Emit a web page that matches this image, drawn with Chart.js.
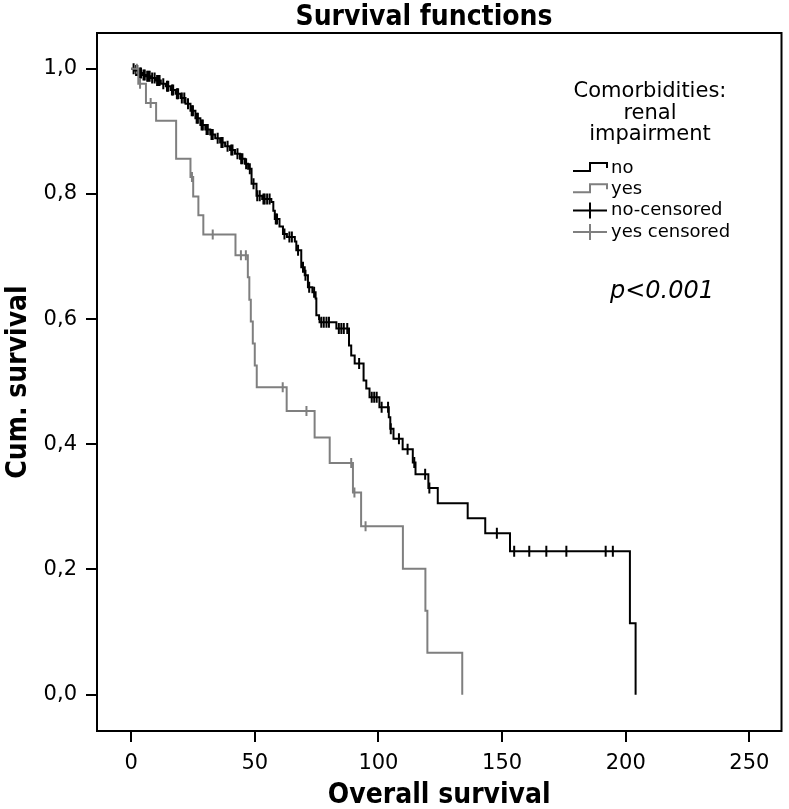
<!DOCTYPE html>
<html>
<head>
<meta charset="utf-8">
<title>Survival functions</title>
<script src="https://cdn.jsdelivr.net/npm/chart.js@4.4.1/dist/chart.umd.min.js"></script>
<style>
    html, body { margin: 0; padding: 0; background: #fff; }
    #wrap { width: 789px; height: 809px; }
</style>
</head>
<body>
<div id="wrap"><canvas id="survivalChart" width="789" height="809"></canvas></div>
<script>
// KAPLAN-MEIER DATA
const noTimes = [0, 1.5, 3, 4.5, 6, 8, 10, 12, 14, 16, 18, 20, 22, 24, 26, 28, 30, 32, 34, 36,
    38, 40, 42, 44, 46, 47.3, 48.7, 50.7, 53, 56.7, 57.5, 58.1, 60, 61.4, 63, 66.2, 66.8, 68.8, 70.2, 71.5,
    73.3, 74.6, 74.9, 76, 76.2, 83, 88.1, 89, 90.4, 94, 95.1, 96.4, 100.4, 104.2, 104.8, 106.1, 109.8, 113.9, 115, 120.2,
    124, 136.1, 143.2, 153.2, 201.7, 204];
const noSurv = [1.0, 0.997, 0.993, 0.990, 0.988, 0.985, 0.981, 0.976, 0.972, 0.966, 0.960, 0.953, 0.944, 0.933, 0.921, 0.910, 0.903, 0.895, 0.889, 0.882,
    0.876, 0.870, 0.864, 0.856, 0.848, 0.840, 0.816, 0.797, 0.792, 0.787, 0.773, 0.760, 0.748, 0.736, 0.731, 0.724, 0.710, 0.683, 0.670, 0.651,
    0.643, 0.633, 0.606, 0.600, 0.595, 0.585, 0.558, 0.542, 0.529, 0.502, 0.489, 0.475, 0.459, 0.443, 0.425, 0.409, 0.392, 0.371, 0.352, 0.330,
    0.306, 0.282, 0.258, 0.229, 0.114, 0.0];
const noCensorTimes = [1, 2, 2.5, 3.5, 4, 5, 5.5, 6.5, 7, 7.5, 8.5, 9.5, 10.5, 11, 11.5, 13, 14.5, 15, 16.5, 17,
    18.5, 19, 20.5, 21.5, 23, 24.5, 25, 26.5, 27, 28.5, 29, 30.5, 31, 32.5, 33, 35, 36.5, 37, 39, 40.5,
    41, 43, 44.5, 45, 46.5, 48, 49.5, 51, 52, 53.5, 54, 55, 56, 58.5, 59, 62, 64, 65, 67.5, 69.5,
    70.5, 72, 74, 76.9, 77.9, 79, 80, 84, 85, 86, 87.4, 92.2, 97.3, 98.3, 99.3, 101.3, 103.9, 105, 108.3, 111.8,
    114.5, 118.9, 120.6, 147.9, 154.9, 161, 167.9, 176, 191.9, 194.8];

const yesTimes = [0, 2.9, 6, 10.1, 18.2, 24.0, 25.1, 27.2, 29.2, 42.2, 47.2, 47.8, 48.4, 49.2, 50.0, 50.8,
    62.9, 74.2, 80.3, 89.7, 93, 109.9, 119, 119.8, 133.9];
const yesSurv = [1.0, 0.976, 0.945, 0.917, 0.856, 0.827, 0.796, 0.766, 0.735, 0.702, 0.667, 0.631, 0.596, 0.561, 0.526, 0.491,
    0.453, 0.411, 0.370, 0.323, 0.269, 0.201, 0.134, 0.067, 0.0];
const yesCensorTimes = [2.3, 3.6, 7.9, 24.6, 33, 44.4, 46.4, 61.3, 70.9, 89.0, 90.3, 94.8];

const xTicks = [0, 50, 100, 150, 200, 250];
const yTicks = [0.0, 0.2, 0.4, 0.6, 0.8, 1.0];

const legendTitleLines = ['Comorbidities:', 'renal', 'impairment'];
const legendLabels = ['no', 'yes', 'no-censored', 'yes censored'];
const pValueText = 'p<0.001';

const BLACK = '#000000';
const GREY = '#7f7f7f';
const TITLE_FONT = '"DejaVu Sans Condensed", "Liberation Sans Narrow", sans-serif';


// helpers
function survivalAt(times, surv, t) {
    let s = surv[0];
    for (let i = 0; i < times.length; i++) {
        if (times[i] <= t) s = surv[i];
    }
    return s;
}

const noCurve = noTimes.map((t, i) => ({ x: t, y: noSurv[i] }));
const yesCurve = yesTimes.map((t, i) => ({ x: t, y: yesSurv[i] }));
const noCensored = noCensorTimes.map(t => ({ x: t, y: survivalAt(noTimes, noSurv, t) }));
const yesCensored = yesCensorTimes.map(t => ({ x: t, y: survivalAt(yesTimes, yesSurv, t) }));


// FRAME, TITLE, LEGEND, P-VALUE
const kmDecor = {
    id: 'kmDecor',
    beforeDatasetsDraw(chart) {
        const { ctx, chartArea: a } = chart;
        ctx.save();
        ctx.strokeStyle = BLACK;
        ctx.lineWidth = 2;
        ctx.strokeRect(a.left, a.top, a.right - a.left, a.bottom - a.top);
        ctx.restore();
    },
    afterDraw(chart) {
        const { ctx } = chart;
        ctx.save();

        // title
        ctx.fillStyle = BLACK;
        ctx.font = 'bold 28px ' + TITLE_FONT;
        ctx.textAlign = 'center';
        ctx.textBaseline = 'middle';
        ctx.fillText('Survival functions', 424, 18);

        // legend header
        ctx.font = '21px "DejaVu Sans", sans-serif';
        legendTitleLines.forEach((line, i) => {
            ctx.fillText(line, 650, 92 + i * 21.5);
        });

        // legend items
        const symLeft = 573, symRight = 607, symMid = 590;
        ctx.textAlign = 'left';
        ctx.font = '18px "DejaVu Sans", sans-serif';
        legendLabels.forEach((label, i) => {
            const y = 168 + i * 21.3;
            const color = i % 2 === 0 ? BLACK : GREY;
            ctx.strokeStyle = color;
            ctx.lineWidth = 2;
            ctx.beginPath();
            if (i < 2) {
                ctx.moveTo(symLeft, y + 3);
                ctx.lineTo(symMid, y + 3);
                ctx.lineTo(symMid, y - 5);
                ctx.lineTo(symRight, y - 5);
                ctx.lineTo(symRight, y);
            } else {
                ctx.moveTo(symLeft, y);
                ctx.lineTo(symRight, y);
                ctx.moveTo(symMid, y - 8);
                ctx.lineTo(symMid, y + 8);
            }
            ctx.stroke();
            ctx.fillStyle = BLACK;
            ctx.fillText(label, 611, y);
        });

        // p value
        ctx.textAlign = 'center';
        ctx.font = 'italic 24px "DejaVu Sans", sans-serif';
        ctx.fillText(pValueText, 662, 292);

        ctx.restore();
    }
};


// CHART
const ctx = document.getElementById('survivalChart').getContext('2d');

new Chart(ctx, {
    type: 'line',
    data: {
        datasets: [
            {
                label: 'yes',
                data: yesCurve,
                stepped: true,
                borderColor: GREY,
                borderWidth: 2,
                pointRadius: 0,
                fill: false
            },
            {
                label: 'no',
                data: noCurve,
                stepped: true,
                borderColor: BLACK,
                borderWidth: 2,
                pointRadius: 0,
                fill: false
            },
            {
                label: 'yes censored',
                data: yesCensored,
                showLine: false,
                pointStyle: 'line',
                rotation: 90,
                pointRadius: 5,
                borderColor: GREY,
                borderWidth: 2
            },
            {
                label: 'no-censored',
                data: noCensored,
                showLine: false,
                pointStyle: 'line',
                rotation: 90,
                pointRadius: 5.5,
                borderColor: BLACK,
                borderWidth: 2
            }
        ]
    },
    options: {
        responsive: false,
        devicePixelRatio: 1,
        animation: false,
        layout: {
            padding: { top: 33, left: 0, right: 6, bottom: 0 }
        },
        plugins: {
            legend: { display: false },
            tooltip: { enabled: false },
            title: { display: false }
        },
        scales: {
            x: {
                type: 'linear',
                min: -13.8,
                max: 263,
                afterBuildTicks: axis => { axis.ticks = xTicks.map(v => ({ value: v })); },
                afterFit: scale => { scale.height = 78; },
                border: { display: false },
                grid: {
                    drawOnChartArea: false,
                    drawTicks: true,
                    tickLength: 11,
                    color: BLACK,
                    lineWidth: 2
                },
                ticks: {
                    color: BLACK,
                    padding: 9,
                    maxRotation: 0,
                    font: { family: '"DejaVu Sans", sans-serif', size: 21 }
                },
                title: {
                    display: true,
                    text: 'Overall survival',
                    color: BLACK,
                    padding: { top: 0, bottom: 0 },
                    font: { family: TITLE_FONT, size: 28, weight: 'bold', lineHeight: 0.95 }
                }
            },
            y: {
                type: 'linear',
                min: -0.058,
                max: 1.057,
                afterBuildTicks: axis => { axis.ticks = yTicks.map(v => ({ value: v })); },
                afterFit: scale => { scale.width = 97; },
                border: { display: false },
                grid: {
                    drawOnChartArea: false,
                    drawTicks: true,
                    tickLength: 11,
                    color: BLACK,
                    lineWidth: 2
                },
                ticks: {
                    color: BLACK,
                    padding: 9,
                    callback: v => v.toFixed(1).replace('.', ','),
                    font: { family: '"DejaVu Sans", sans-serif', size: 21 }
                },
                title: {
                    display: true,
                    text: 'Cum. survival',
                    color: BLACK,
                    padding: { top: 2, bottom: 0 },
                    font: { family: TITLE_FONT, size: 28, weight: 'bold', lineHeight: 1.2 }
                }
            }
        }
    },
    plugins: [kmDecor]
});
</script>
</body>
</html>
